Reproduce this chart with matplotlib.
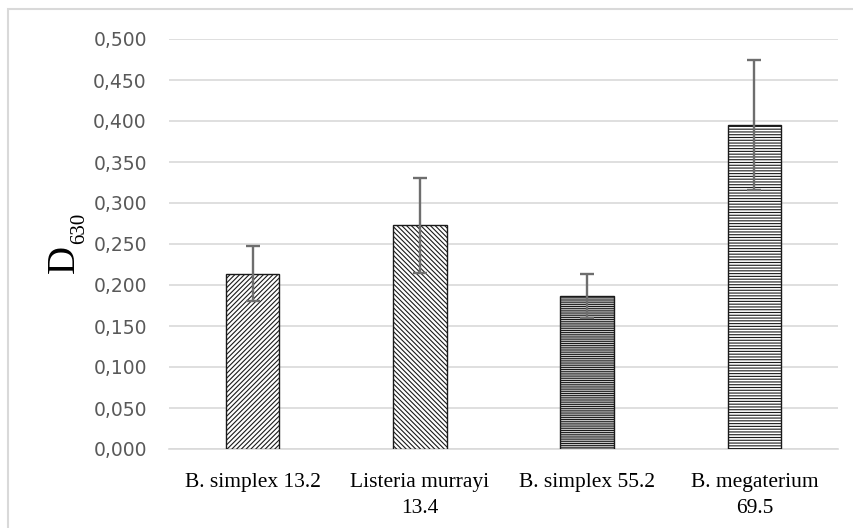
import matplotlib
matplotlib.use("Agg")
import matplotlib.pyplot as plt
from matplotlib.patches import Rectangle
from matplotlib.ticker import FuncFormatter, MultipleLocator

# Optical density at 630 nm per isolate
categories = ["B. simplex 13.2", "Listeria murrayi\n13.4", "B. simplex 55.2", "B. megaterium\n69.5"]
values = [0.214, 0.273, 0.187, 0.395]
errors = [0.033, 0.058, 0.027, 0.079]
hatches = ["///////", "\\\\\\\\\\\\\\", "---------", "------"]

plt.rcParams["hatch.linewidth"] = 0.8

fig = plt.figure(figsize=(8.54, 5.28), dpi=100)
W, H = 854, 528

# light outer frame
fig.patches.append(Rectangle((8 / W, -0.05), 1.1, 1 - 9 / H + 0.05,
                             transform=fig.transFigure, fill=False,
                             edgecolor="#d9d9d9", linewidth=1.5))

left, right, top, bottom = 169, 838, 39, 449
ax = fig.add_axes([left / W, (H - bottom) / H, (right - left) / W, (bottom - top) / H])

x = list(range(len(categories)))
for i, (v, h) in enumerate(zip(values, hatches)):
    ax.bar(i, v, width=0.32, color="white", edgecolor="#1a1a1a", linewidth=1.0,
           hatch=h, zorder=3)
ax.errorbar(x, values, yerr=errors, fmt="none", ecolor="#6e6e6e",
            elinewidth=1.7, capsize=4.7, capthick=1.7, zorder=4)

ax.set_xlim(-0.5, len(categories) - 0.5)
ax.set_ylim(0, 0.5)
ax.yaxis.set_major_locator(MultipleLocator(0.05))
ax.yaxis.set_major_formatter(FuncFormatter(lambda v, p: f"{v:.3f}".replace(".", ",")))
ax.grid(axis="y", color="#d9d9d9", linewidth=1.2, zorder=0)
ax.set_axisbelow(True)
for s in ["top", "right", "left"]:
    ax.spines[s].set_visible(False)
ax.spines["bottom"].set_color("#d9d9d9")
ax.spines["bottom"].set_linewidth(1.2)

ax.tick_params(axis="y", length=0, pad=16, labelsize=13.5, labelcolor="#595959")
ax.tick_params(axis="x", length=0, pad=17)
for t in ax.get_yticklabels():
    t.set_fontfamily("DejaVu Sans")

ax.set_xticks(x)
ax.set_xticklabels(categories, fontfamily="Liberation Serif", fontsize=15.5,
                   color="black", linespacing=1.5)

# axis title: D with subscript 630
fig.text(64 / W, 1 - 259 / H, "D", rotation=90, ha="center", va="center",
         fontfamily="Liberation Serif", fontsize=28, color="black")
fig.text(80 / W, 1 - 228 / H, "630", rotation=90, ha="center", va="center",
         fontfamily="Liberation Serif", fontsize=15, color="black")

fig.savefig("out.png", dpi=100)
